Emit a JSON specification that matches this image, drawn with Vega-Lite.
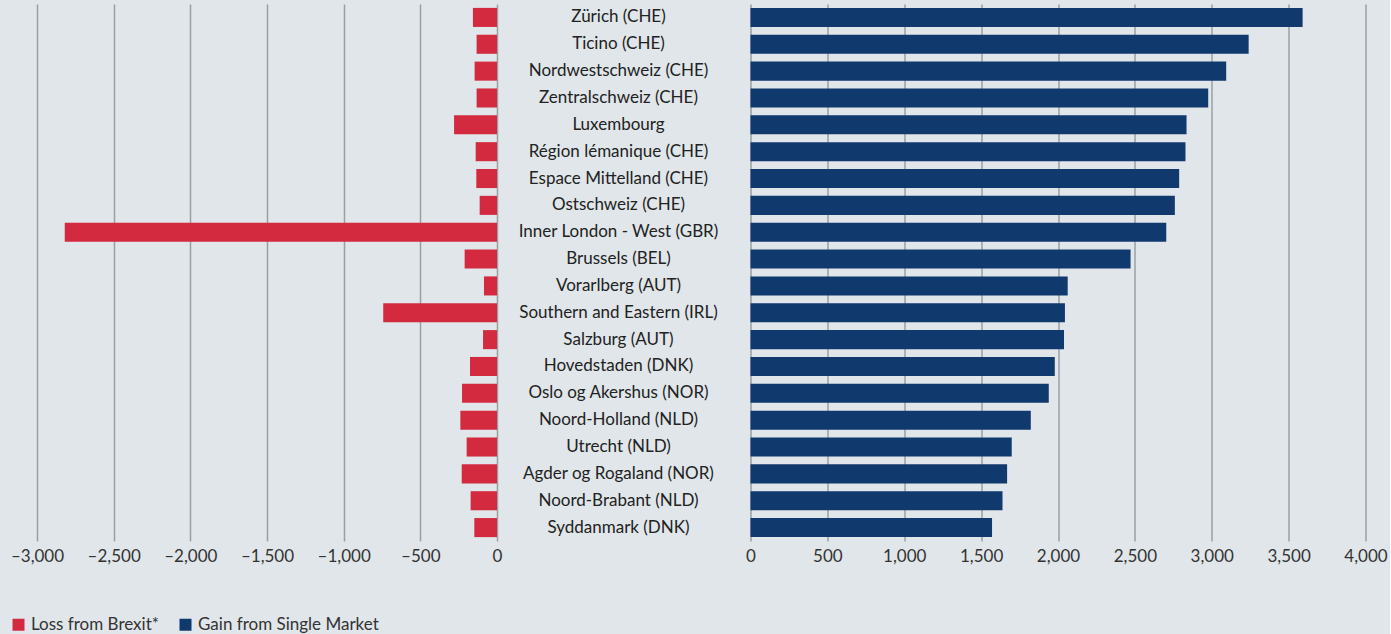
{
  "$schema": "https://vega.github.io/schema/vega-lite/v6.json",
  "background": "#e0e6e9",
  "padding": {"left": 10, "top": 4, "right": 2, "bottom": 2},
  "config": {
    "locale": {
      "number": {
        "decimal": ".",
        "thousands": ",",
        "grouping": [3],
        "currency": ["$", ""],
        "minus": "–"
      }
    },
    "view": {"stroke": null},
    "font": "Lato",
    "axis": {
      "labelFont": "Lato",
      "labelFontSize": 17,
      "labelColor": "#333333",
      "labelOverlap": false,
      "labelFlush": false,
      "domain": false,
      "ticks": false,
      "tickSize": 0,
      "gridColor": "#9aa0a0",
      "gridWidth": 1.5,
      "gridOpacity": 1
    },
    "legend": {
      "labelFont": "Lato",
      "labelFontSize": 17,
      "labelColor": "#333333",
      "labelLimit": 400,
      "symbolType": "square",
      "symbolSize": 144,
      "symbolStrokeWidth": 0,
      "labelOffset": 4,
      "columnPadding": 18
    }
  },
  "data": {
    "values": [
      {"region": "Zürich (CHE)", "loss": -157, "gain": 3591},
      {"region": "Ticino (CHE)", "loss": -133, "gain": 3240},
      {"region": "Nordwestschweiz (CHE)", "loss": -146, "gain": 3094},
      {"region": "Zentralschweiz (CHE)", "loss": -133, "gain": 2977},
      {"region": "Luxembourg", "loss": -280, "gain": 2836},
      {"region": "Région lémanique (CHE)", "loss": -139, "gain": 2829},
      {"region": "Espace Mittelland (CHE)", "loss": -135, "gain": 2788},
      {"region": "Ostschweiz (CHE)", "loss": -113, "gain": 2760},
      {"region": "Inner London - West (GBR)", "loss": -2819, "gain": 2704},
      {"region": "Brussels (BEL)", "loss": -211, "gain": 2472},
      {"region": "Vorarlberg (AUT)", "loss": -85, "gain": 2063},
      {"region": "Southern and Eastern (IRL)", "loss": -742, "gain": 2045},
      {"region": "Salzburg (AUT)", "loss": -91, "gain": 2039},
      {"region": "Hovedstaden (DNK)", "loss": -176, "gain": 1979},
      {"region": "Oslo og Akershus (NOR)", "loss": -228, "gain": 1940},
      {"region": "Noord-Holland (NLD)", "loss": -239, "gain": 1823},
      {"region": "Utrecht (NLD)", "loss": -198, "gain": 1699},
      {"region": "Agder og Rogaland (NOR)", "loss": -230, "gain": 1669},
      {"region": "Noord-Brabant (NLD)", "loss": -172, "gain": 1639},
      {"region": "Syddanmark (DNK)", "loss": -148, "gain": 1571}
    ]
  },
  "spacing": 253.5,
  "bounds": "flush",
  "resolve": {"scale": {"x": "independent", "y": "independent", "color": "shared"}},
  "hconcat": [
    {
      "width": 460,
      "height": 537,
      "mark": {"type": "bar"},
      "encoding": {
        "y": {
          "field": "region",
          "type": "nominal",
          "sort": null,
          "axis": null,
          "scale": {"paddingInner": 0.29, "paddingOuter": 0.145}
        },
        "x": {
          "field": "loss",
          "type": "quantitative",
          "scale": {"domain": [-3000, 0], "nice": false},
          "axis": {
            "values": [-3000, -2500, -2000, -1500, -1000, -500, 0],
            "format": ",.0f",
            "title": null,
            "labelPadding": 7
          }
        },
        "color": {
          "datum": "Loss from Brexit*",
          "type": "nominal",
          "scale": {
            "domain": ["Loss from Brexit*", "Gain from Single Market"],
            "range": ["#d42a40", "#10396e"]
          },
          "legend": {
            "title": null,
            "orient": "none",
            "direction": "horizontal",
            "legendX": -27,
            "legendY": 612
          }
        }
      }
    },
    {
      "width": 615,
      "height": 537,
      "mark": {"type": "bar"},
      "encoding": {
        "y": {
          "field": "region",
          "type": "nominal",
          "sort": null,
          "scale": {"paddingInner": 0.29, "paddingOuter": 0.145},
          "axis": {
            "title": null,
            "grid": false,
            "labelAlign": "center",
            "labelBaseline": "middle",
            "labelPadding": 132.5,
            "labelFontSize": 17,
            "labelColor": "#222222",
            "labelLimit": 400
          }
        },
        "x": {
          "field": "gain",
          "type": "quantitative",
          "scale": {"domain": [0, 4000], "nice": false},
          "axis": {
            "values": [0, 500, 1000, 1500, 2000, 2500, 3000, 3500, 4000],
            "format": ",.0f",
            "title": null,
            "labelPadding": 7
          }
        },
        "color": {
          "datum": "Gain from Single Market",
          "type": "nominal"
        }
      }
    }
  ]
}
